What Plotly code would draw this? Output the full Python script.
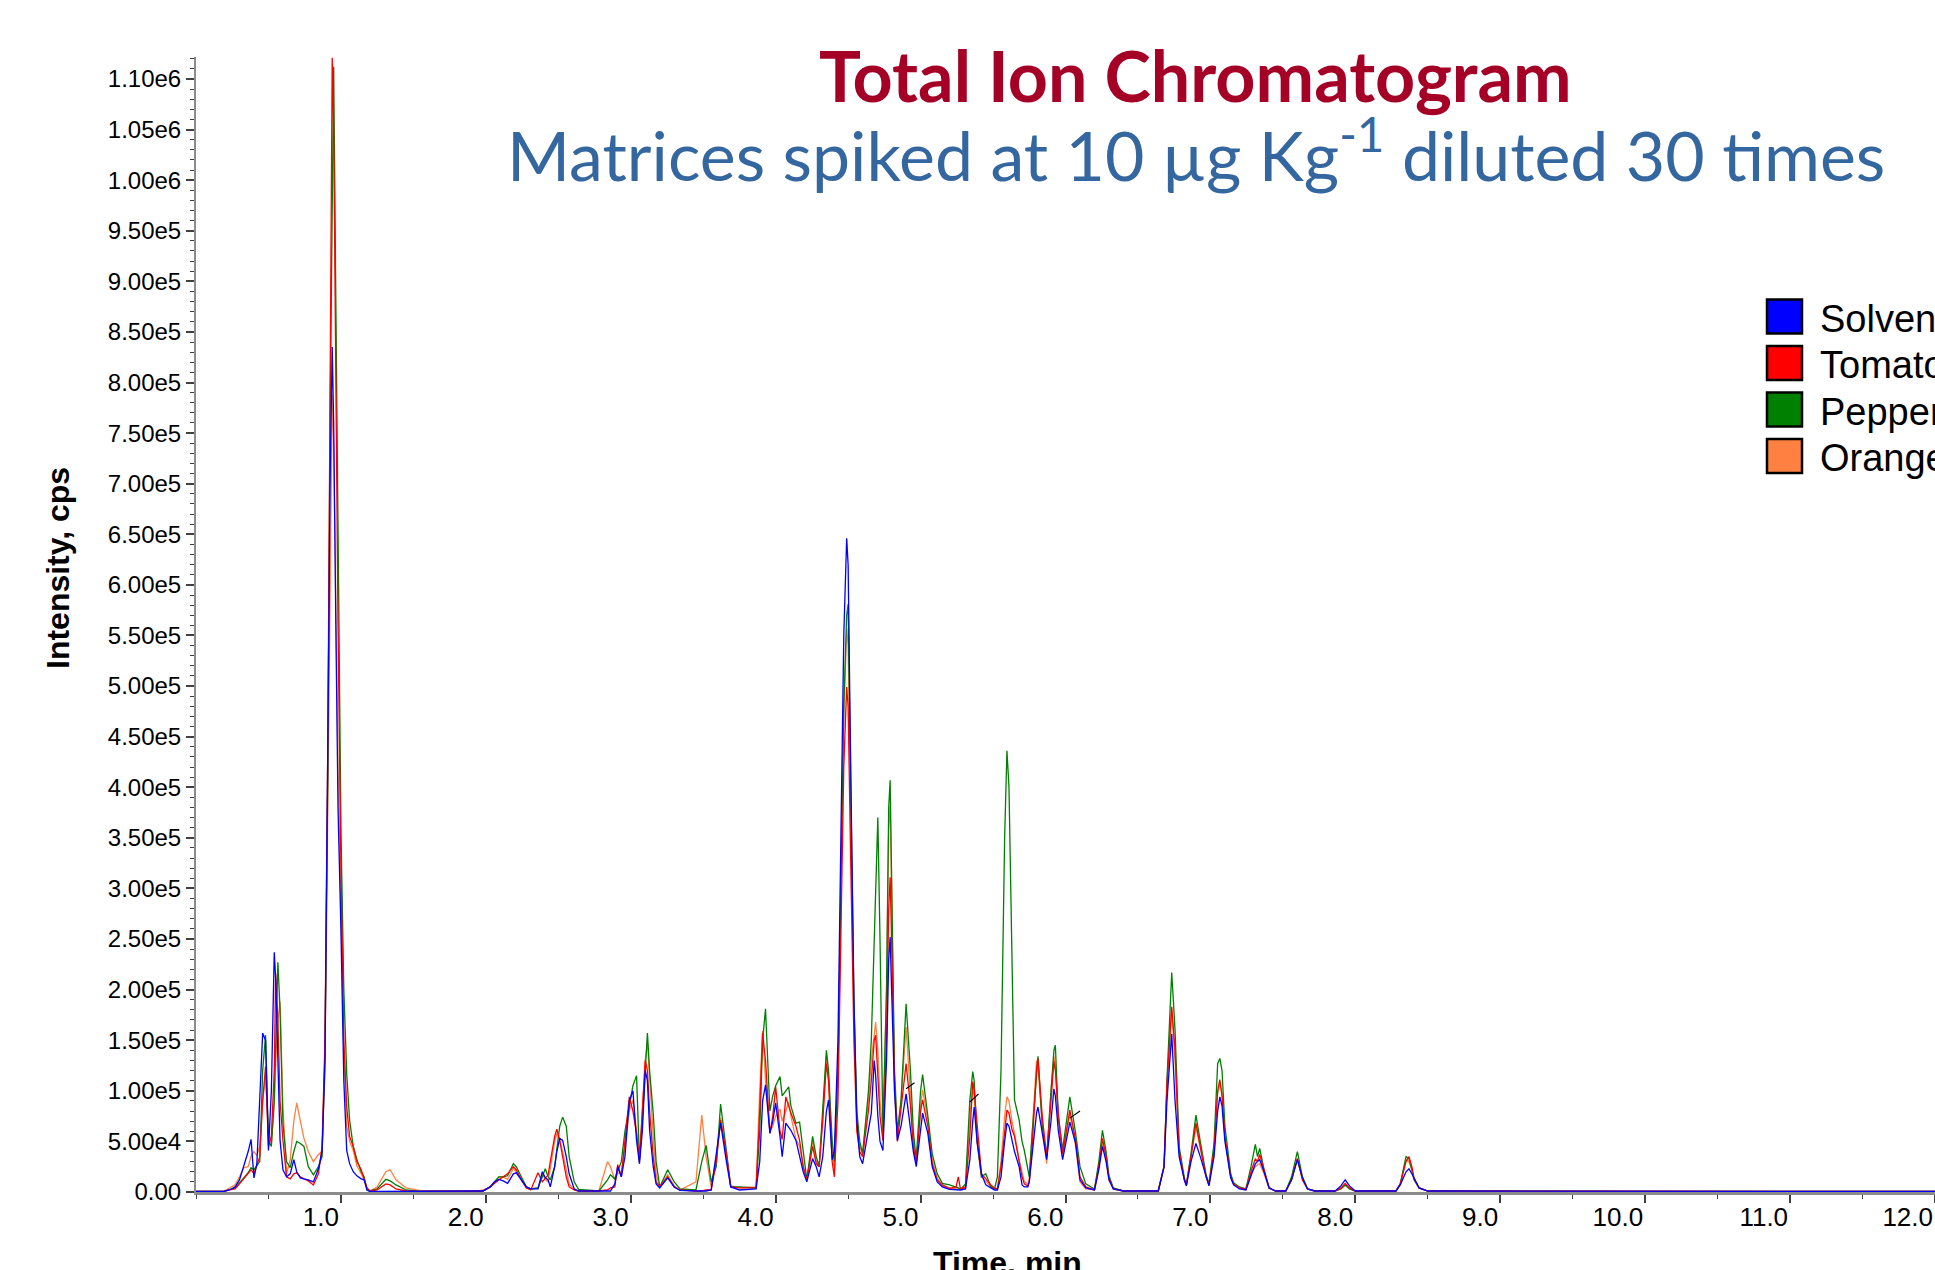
import plotly.graph_objects as go

# Retention time (min) shared by all four chromatograms
time_min = [
    0.00, 0.19, 0.23, 0.27, 0.30, 0.33, 0.36, 0.38, 0.40, 0.42,
    0.44, 0.46, 0.48, 0.50, 0.52, 0.54, 0.55, 0.565, 0.58, 0.60,
    0.625, 0.65, 0.675, 0.695, 0.72, 0.745, 0.775, 0.81, 0.845, 0.87,
    0.89, 0.91, 0.925, 0.94, 0.95, 0.965, 0.98, 1.00, 1.02, 1.04,
    1.06, 1.085, 1.11, 1.14, 1.16, 1.18, 1.20, 1.25, 1.31, 1.34,
    1.38, 1.45, 1.54, 1.93, 1.98, 2.03, 2.06, 2.09, 2.12, 2.15,
    2.19, 2.21, 2.245, 2.28, 2.31, 2.36, 2.39, 2.41, 2.43, 2.445,
    2.475, 2.49, 2.51, 2.53, 2.555, 2.575, 2.61, 2.64, 2.78, 2.84,
    2.86, 2.89, 2.91, 2.935, 2.96, 2.99, 3.015, 3.04, 3.06, 3.08,
    3.10, 3.115, 3.13, 3.155, 3.175, 3.20, 3.255, 3.30, 3.34, 3.45,
    3.49, 3.52, 3.555, 3.59, 3.62, 3.66, 3.69, 3.75, 3.865, 3.89,
    3.91, 3.93, 3.96, 3.98, 4.00, 4.03, 4.045, 4.07, 4.09, 4.105,
    4.14, 4.165, 4.19, 4.215, 4.255, 4.28, 4.30, 4.325, 4.35, 4.365,
    4.39, 4.405, 4.43, 4.45, 4.47, 4.49, 4.50, 4.515, 4.54, 4.56,
    4.58, 4.60, 4.64, 4.66, 4.68, 4.69, 4.705, 4.72, 4.74, 4.765,
    4.78, 4.79, 4.80, 4.82, 4.84, 4.865, 4.90, 4.93, 4.95, 4.97,
    5.00, 5.014, 5.05, 5.08, 5.115, 5.15, 5.20, 5.245, 5.26, 5.275,
    5.31, 5.34, 5.36, 5.37, 5.39, 5.42, 5.45, 5.485, 5.51, 5.53,
    5.555, 5.58, 5.596, 5.61, 5.63, 5.648, 5.68, 5.70, 5.716, 5.74,
    5.75, 5.77, 5.80, 5.81, 5.84, 5.87, 5.90, 5.92, 5.93, 5.95,
    5.98, 6.03, 6.07, 6.10, 6.14, 6.20, 6.23, 6.255, 6.28, 6.30,
    6.33, 6.40, 6.64, 6.68, 6.70, 6.733, 6.756, 6.784, 6.82, 6.834,
    6.866, 6.90, 6.93, 6.97, 6.99, 7.025, 7.05, 7.065, 7.08, 7.10,
    7.14, 7.16, 7.20, 7.245, 7.28, 7.31, 7.325, 7.34, 7.37, 7.405,
    7.45, 7.52, 7.56, 7.60, 7.635, 7.67, 7.72, 7.86, 7.90, 7.93,
    7.96, 8.00, 8.28, 8.31, 8.35, 8.37, 8.39, 8.405, 8.44, 8.50,
    12.0,
]

# Intensities in thousands of counts per second
solvent_kcps = [
    0.5, 0.5, 2, 5, 12, 25, 40, 52, 14, 28,
    90, 157, 150, 41, 100, 237, 210, 120, 51, 22,
    15, 18, 32, 20, 14, 13, 12, 10, 23, 40,
    130, 450, 700, 835, 760, 560, 380, 260, 110, 41,
    28, 20, 16, 13, 12, 2, 0.5, 0.5, 0.5, 0.5,
    0.5, 0.5, 0.5, 0.5, 1, 5, 10, 12.5, 11, 8.5,
    18, 19, 12, 5, 3, 3, 20, 14, 12, 5,
    25, 40, 53, 51, 35, 18, 3, 1, 1, 1,
    1, 8, 25, 15, 35, 90, 100, 51, 28, 60,
    120, 110, 61, 25, 8, 4, 14, 5, 1.5, 1,
    1, 1, 2, 35, 68, 30, 5, 2, 3, 30,
    90, 106, 58, 70, 88, 55, 35, 68, 64, 61,
    51, 35, 20, 10, 33, 25, 15, 35, 80, 91,
    32, 40, 150, 350, 550, 646, 620, 450, 190, 70,
    35, 28, 60, 78, 130, 115, 75, 50, 41, 130,
    230, 252, 200, 100, 51, 65, 97, 65, 40, 25,
    60, 78, 58, 25, 10, 5, 2.6, 2, 2, 2,
    3, 32, 70, 84, 50, 18, 7, 4, 2, 2,
    15, 50, 68, 65, 51, 40, 25, 7, 5, 5,
    10, 38, 78, 84, 58, 32, 70, 102, 95, 61,
    32, 69, 48, 12, 4, 2, 22, 45, 30, 12,
    3, 1, 1, 25, 90, 156, 90, 35, 12, 6,
    30, 48, 35, 14, 6, 35, 80, 94, 85, 50,
    14, 7, 3, 2, 15, 28, 30, 32, 20, 4,
    1, 1, 12, 32, 14, 3, 1, 1, 6, 12,
    6, 1, 1, 7, 20, 23, 18, 14, 4, 1,
    0.5,
]

tomato_kcps = [
    0.5, 0.5, 2, 3, 8, 13, 18, 22, 18, 26,
    35, 90, 124, 45, 55, 120, 216, 170, 90, 51,
    15, 13, 18, 19, 15, 13, 11, 7, 18, 45,
    150, 450, 800, 1121, 1050, 800, 560, 320, 150, 84,
    55, 45, 30, 22, 14, 4, 1, 2, 8, 7,
    3, 1, 0.5, 0.5, 1, 5, 9, 12, 15, 18,
    25, 22, 12, 4, 2, 19, 10, 14, 17, 30,
    55, 62, 51, 35, 15, 5, 2, 1, 1, 2,
    4, 5, 27, 15, 50, 94, 80, 58, 32, 80,
    130, 120, 80, 35, 10, 5, 15, 5, 2, 1,
    1, 2, 2, 30, 71, 38, 5, 4, 4, 80,
    157, 130, 58, 75, 104, 60, 52, 94, 85, 78,
    65, 51, 25, 12, 45, 28, 25, 70, 127, 110,
    30, 15, 90, 250, 420, 499, 480, 350, 150, 60,
    40, 35, 80, 110, 150, 155, 110, 75, 51, 150,
    280, 311, 250, 110, 50, 80, 127, 85, 45, 28,
    80, 91, 65, 28, 12, 7, 3.5, 5, 15, 3,
    5, 55, 109, 100, 65, 18, 13, 7, 4, 3,
    25, 60, 81, 78, 62, 55, 30, 15, 8, 6,
    10, 45, 120, 132, 74, 35, 90, 129, 120, 78,
    38, 81, 51, 15, 5, 2, 25, 53, 35, 14,
    3, 1, 1, 25, 107, 183, 140, 41, 12, 7,
    35, 68, 45, 15, 7, 41, 100, 111, 95, 55,
    15, 8, 4, 3, 20, 33, 30, 37, 22, 4,
    1, 1, 12, 33, 12, 3, 1, 1, 4, 8.5,
    4, 1, 1, 8, 30, 35, 25, 14, 4, 1,
    0.5,
]

pepper_kcps = [
    0.5, 0.5, 2, 4, 9, 14, 19, 24, 22, 26,
    30, 120, 155, 51, 45, 90, 150, 227, 180, 68,
    30, 24, 40, 50, 48, 45, 25, 17, 25, 35,
    140, 420, 760, 1000, 1112, 880, 620, 360, 200, 117,
    71, 45, 32, 20, 15, 2, 1, 3, 12.5, 11,
    7, 2, 0.5, 0.5, 1, 5, 10, 15, 15, 16,
    28, 25, 15, 5, 3, 4, 15, 23, 15, 12,
    25, 45, 65, 74, 65, 35, 10, 2.6, 1, 12,
    17, 13, 20, 30, 60, 85, 105, 115, 32, 70,
    120, 157, 120, 78, 30, 5, 22, 10, 3, 2,
    30, 46, 10, 25, 87, 38, 5, 5, 4, 60,
    150, 181, 80, 95, 105, 114, 95, 100, 104, 85,
    68, 69, 40, 12, 55, 35, 25, 80, 140, 120,
    50, 30, 120, 300, 480, 570, 581, 430, 190, 80,
    50, 38, 99, 150, 250, 320, 370, 250, 60, 200,
    380, 407, 300, 120, 60, 90, 186, 120, 60, 32,
    100, 116, 75, 38, 18, 8.5, 7, 5, 4, 2.6,
    8, 91, 119, 110, 51, 15, 18, 5, 3, 15,
    120, 350, 436, 400, 230, 91, 71, 50, 41, 20,
    15, 58, 120, 134, 65, 35, 100, 140, 145, 75,
    42, 94, 58, 25, 8, 3, 30, 61, 40, 16,
    4, 1, 1, 25, 110, 217, 160, 45, 14, 7,
    38, 76, 50, 17, 8, 48, 127, 132, 120, 65,
    18, 9, 5, 3, 25, 47, 35, 43, 22, 4,
    1, 1, 15, 40, 15, 3, 1, 1, 3, 7,
    3, 1, 1, 8, 35, 33, 22, 12, 4, 1,
    0.5,
]

orange_kcps = [
    0.5, 0.5, 4, 7, 15, 24, 25, 35, 40, 36,
    45, 90, 114, 60, 48, 90, 130, 170, 188, 84,
    18, 32, 70, 88, 70, 53, 40, 30, 37, 40,
    120, 380, 600, 788, 740, 560, 420, 280, 140, 65,
    50, 41, 26, 18, 12, 4, 1, 5, 20, 22,
    12, 4, 1.5, 0.5, 2, 5, 10, 15, 15, 12.5,
    23, 20, 13, 4, 3, 4, 18, 12, 10, 25,
    50, 58, 51, 40, 20, 8, 2, 1, 1, 30,
    25, 12, 18, 20, 45, 80, 91, 60, 28, 75,
    130, 148, 110, 55, 18, 5, 17, 6, 2, 10,
    76, 35, 5, 35, 73, 35, 6, 4, 5, 100,
    159, 110, 60, 65, 75, 82, 70, 80, 89, 75,
    52, 45, 25, 12, 51, 30, 25, 75, 134, 110,
    40, 20, 110, 290, 470, 557, 540, 400, 180, 70,
    45, 38, 91, 130, 160, 168, 140, 90, 60, 200,
    360, 382, 300, 100, 55, 90, 163, 100, 50, 28,
    85, 101, 72, 32, 14, 6, 4, 3, 3, 3,
    3, 75, 101, 95, 48, 15, 10, 5, 3, 3,
    30, 75, 94, 90, 70, 58, 32, 20, 10, 8,
    12, 58, 130, 125, 64, 28, 100, 134, 125, 71,
    35, 78, 45, 10, 3, 2, 25, 50, 33, 12,
    3, 1, 1, 25, 100, 180, 130, 40, 12, 7,
    35, 65, 43, 15, 7, 41, 98, 107, 98, 55,
    15, 8, 4, 2, 18, 25, 27, 28, 18, 4,
    1, 1, 12, 33, 12, 3, 1, 1, 3, 7,
    3, 1, 1, 8, 32, 30, 22, 12, 4, 1,
    0.5,
]

# Peak-integration tick marks drawn by the acquisition software
mark_time = [4.90, 4.958, None, 5.34, 5.40, None, 6.03, 6.10]
mark_kcps = [102, 108, None, 89, 97, None, 73, 80]

series_names = ["Solvent", "Tomato", "Pepper", "Orange"]
series_colors = ["#0000FF", "#FF0000", "#008000", "#FF8040"]

x_tick_values = [1, 2, 3, 4, 5, 6, 7, 8, 9, 10, 11, 12]
x_tick_labels = ["1.0", "2.0", "3.0", "4.0", "5.0", "6.0", "7.0", "8.0",
                 "9.0", "10.0", "11.0", "12.0"]

y_tick_values = [0, 50000, 100000, 150000, 200000, 250000, 300000, 350000,
                 400000, 450000, 500000, 550000, 600000, 650000, 700000,
                 750000, 800000, 850000, 900000, 950000, 1000000, 1050000,
                 1100000]
y_tick_labels = ["0.00", "5.00e4", "1.00e5", "1.50e5", "2.00e5", "2.50e5",
                 "3.00e5", "3.50e5", "4.00e5", "4.50e5", "5.00e5", "5.50e5",
                 "6.00e5", "6.50e5", "7.00e5", "7.50e5", "8.00e5", "8.50e5",
                 "9.00e5", "9.50e5", "1.00e6", "1.05e6", "1.10e6"]

series_kcps = [solvent_kcps, tomato_kcps, pepper_kcps, orange_kcps]
for values in series_kcps:
    assert len(values) == len(time_min)

# Canvas geometry (pixels)
W, H = 1935, 1270
M_L, M_R, M_T, M_B = 196, 0, 57, 78
PLOT_W = W - M_L - M_R
PLOT_H = H - M_T - M_B


def px_x(px):
    return (px - M_L) / PLOT_W


def px_y(py):
    return (H - M_B - py) / PLOT_H


fig = go.Figure()

# Draw orange first so the solvent trace sits on top
for idx in [3, 2, 1, 0]:
    fig.add_trace(go.Scatter(
        x=time_min,
        y=[v * 1000 for v in series_kcps[idx]],
        mode="lines",
        name=series_names[idx],
        line=dict(color=series_colors[idx], width=1.3),
        showlegend=False,
        hoverinfo="skip",
    ))

fig.add_trace(go.Scatter(
    x=mark_time,
    y=[None if v is None else v * 1000 for v in mark_kcps],
    mode="lines",
    line=dict(color="#000000", width=1.2),
    showlegend=False,
    hoverinfo="skip",
))

shapes = []
annotations = []

# Legend: bordered colour squares with labels
legend_centers = [316.5, 363, 409.5, 456]
for name, color, cy in zip(series_names, series_colors, legend_centers):
    shapes.append(dict(
        type="rect", xref="paper", yref="paper",
        x0=px_x(1767), x1=px_x(1802),
        y0=px_y(cy + 17), y1=px_y(cy - 17),
        fillcolor=color, line=dict(color="#000000", width=2.5),
    ))
    annotations.append(dict(
        text=name, xref="paper", yref="paper",
        x=px_x(1818), y=px_y(cy + 2), xanchor="left", yanchor="middle",
        showarrow=False,
        font=dict(family="Liberation Sans, Arial", size=38, color="#000000"),
    ))

annotations.append(dict(
    text="<b>Total Ion Chromatogram</b>", xref="paper", yref="paper",
    x=px_x(1195), y=px_y(75), xanchor="center", yanchor="middle",
    showarrow=False,
    font=dict(family="Lato", size=70, color="#A50026"),
))
annotations.append(dict(
    text="Matrices spiked at 10 µg Kg<sup>-1</sup> diluted 30 times",
    xref="paper", yref="paper",
    x=px_x(1196), y=px_y(150), xanchor="center", yanchor="middle",
    showarrow=False,
    font=dict(family="Lato", size=68, color="#3467A0"),
))
annotations.append(dict(
    text="<b>Intensity, cps</b>", xref="paper", yref="paper",
    x=px_x(58), y=px_y(568), xanchor="center", yanchor="middle",
    textangle=-90, showarrow=False,
    font=dict(family="Liberation Sans, Arial", size=32, color="#000000"),
))
annotations.append(dict(
    text="<b>Time, min</b>", xref="paper", yref="paper",
    x=px_x(1007), y=px_y(1263), xanchor="center", yanchor="middle",
    showarrow=False,
    font=dict(family="Liberation Sans, Arial", size=32, color="#000000"),
))

fig.update_layout(
    width=W, height=H,
    margin=dict(l=M_L, r=M_R, t=M_T, b=M_B, pad=0),
    paper_bgcolor="#FFFFFF",
    plot_bgcolor="#FFFFFF",
    showlegend=False,
    shapes=shapes,
    annotations=annotations,
)

fig.update_xaxes(
    range=[0, 12.0],
    tickvals=x_tick_values,
    ticktext=x_tick_labels,
    ticks="outside", ticklen=8, tickwidth=1.5, tickcolor="#404040",
    ticklabelposition="outside left",
    minor=dict(dtick=0.5, tick0=0, ticks="outside", ticklen=4,
               tickwidth=1.2, tickcolor="#404040"),
    showline=True, linecolor="#8C8C8C", linewidth=2.5,
    showgrid=False, zeroline=False,
    tickfont=dict(family="Liberation Sans, Arial", size=26, color="#000000"),
)

fig.update_yaxes(
    range=[0, 1121700],
    tickvals=y_tick_values,
    ticktext=y_tick_labels,
    ticks="outside", ticklen=8, tickwidth=1.5, tickcolor="#404040",
    minor=dict(dtick=10000, tick0=0, ticks="outside", ticklen=4,
               tickwidth=1.2, tickcolor="#404040"),
    showline=True, linecolor="#8C8C8C", linewidth=2,
    showgrid=False, zeroline=False,
    tickfont=dict(family="Liberation Sans, Arial", size=24, color="#000000"),
)

fig.write_html("out.html")
